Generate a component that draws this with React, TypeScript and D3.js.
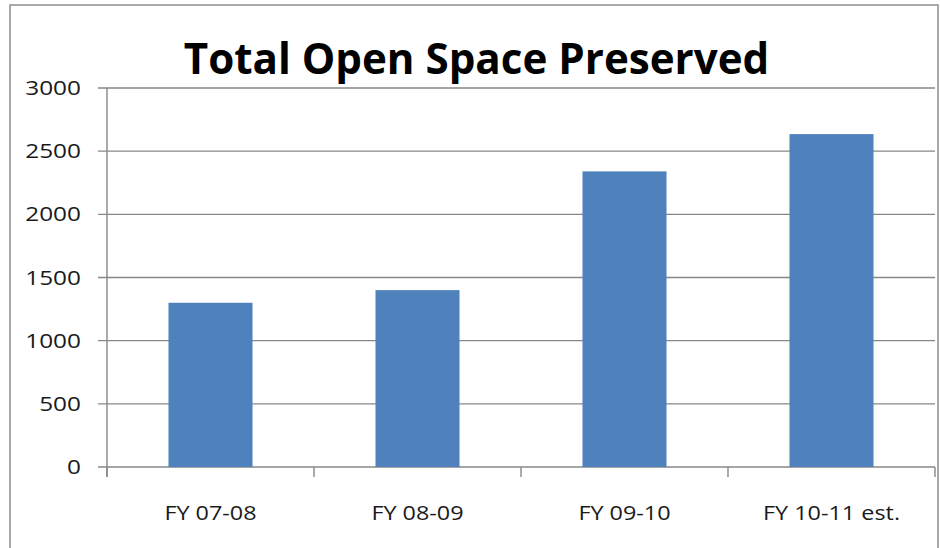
import React from "react";
import { scaleBand, scaleLinear } from "d3";

const categories = ["FY 07-08", "FY 08-09", "FY 09-10", "FY 10-11 est."];
const acres = [1300, 1400, 2340, 2635];
const yTicks = [0, 500, 1000, 1500, 2000, 2500, 3000];

const width = 940;
const height = 548;
const plot = { left: 107, right: 935, top: 88, bottom: 467 };
const font = "'Open Sans', 'Noto Sans', sans-serif";

export default function App() {
  const xScale = scaleBand<string>()
    .domain(categories)
    .range([plot.left, plot.right])
    .paddingInner(0.594)
    .paddingOuter(0.297);

  const yScale = scaleLinear().domain([0, 3000]).range([plot.bottom, plot.top]);

  const step = xScale.step();
  const slotEdges = [0, 1, 2, 3, 4].map((i) => plot.left + step * i);

  return (
    <svg
      width={width}
      height={height}
      style={{ position: "absolute", left: 0, top: 0, background: "#fff" }}
    >
      {/* frame */}
      <rect x={10} y={5} width={928} height={560} fill="#fff" stroke="#8e8e8e" strokeWidth={1.5} />

      <text
        transform={`translate(${(190 + 763) / 2}, 74) scale(0.98, 1)`}
        textAnchor="middle"
        fontFamily={font}
        fontWeight="bold"
        fontSize={43}
        fill="#000"
      >
        Total Open Space Preserved
      </text>

      {/* gridlines + y ticks */}
      {yTicks.map((t) => (
        <g key={t}>
          <line
            x1={plot.left - 9}
            x2={plot.right}
            y1={yScale(t)}
            y2={yScale(t)}
            stroke="#878787"
            strokeWidth={1.4}
          />
          <text
            transform={`translate(81, ${yScale(t) + 7}) scale(1.22, 1)`}
            textAnchor="end"
            fontFamily={font}
            fontSize={20}
            fontWeight={500}
            fill="#1a1a1a"
          >
            {t}
          </text>
        </g>
      ))}

      {/* bars */}
      {categories.map((c, i) => (
        <rect
          key={c}
          x={xScale(c)}
          y={yScale(acres[i])}
          width={xScale.bandwidth()}
          height={yScale(0) - yScale(acres[i])}
          fill="#4f81bd"
        />
      ))}

      {/* y axis line */}
      <line x1={plot.left} x2={plot.left} y1={plot.top} y2={plot.bottom + 10} stroke="#878787" strokeWidth={1.4} />
      {/* category ticks */}
      {slotEdges.map((x, i) => (
        <line key={i} x1={x} x2={x} y1={plot.bottom} y2={plot.bottom + 10} stroke="#878787" strokeWidth={1.4} />
      ))}

      {categories.map((c) => (
        <text
          key={c}
          transform={`translate(${(xScale(c) ?? 0) + xScale.bandwidth() / 2}, 520) scale(1.17, 1)`}
          textAnchor="middle"
          fontFamily={font}
          fontSize={20}
          fill="#1a1a1a"
        >
          {c}
        </text>
      ))}
    </svg>
  );
}
